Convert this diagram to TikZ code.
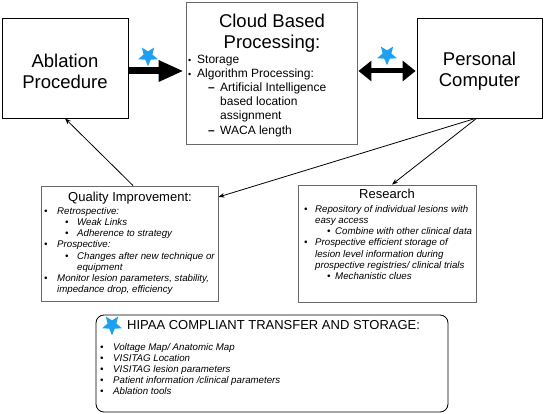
\documentclass[tikz,border=0pt]{standalone}
\usepackage{fontspec}
\setmainfont{Liberation Sans}
\usetikzlibrary{arrows.meta,shapes.geometric}
\definecolor{starblue}{RGB}{30,160,240}
\definecolor{boxgray}{RGB}{105,105,105}
\newcommand{\lit}[3]{\hspace*{#1}\makebox[#2][l]{\textbullet}#3}
\newcommand{\ldash}[3]{\hspace*{#1}\makebox[#2][l]{\textbf{\textendash}}#3}
\newcommand{\cbul}[1]{\makebox[9pt][l]{{\fontsize{9}{9}\selectfont\textbullet}}#1}
\begin{document}
\begin{tikzpicture}[x=1pt,y=-1pt,
  box/.style={draw=black,line width=0.8pt,inner sep=0pt},
  graybox/.style={draw=boxgray,line width=0.9pt,inner sep=0pt},
  bigtxt/.style={align=center,font={\fontsize{18.5}{21}\selectfont},inner sep=0pt},
  listtxt/.style={align=left,anchor=north west,inner sep=0pt,font={\fontsize{9.7}{11.2}\selectfont\itshape}},
  hdr/.style={anchor=base,inner sep=0pt,font={\fontsize{13}{15}\selectfont}},
  bluestar/.style={star,star points=5,star point ratio=0.45,fill=starblue,draw=none,minimum size=9.3pt,inner sep=0pt},
  thinarrow/.style={line width=0.8pt,-{Stealth[length=6pt,width=4.5pt]}},
  bigarrow/.style={line width=7pt,-{Triangle[length=25pt,width=20pt]}},
  dblarrow/.style={line width=5pt,{Triangle[length=13pt,width=20pt]}-{Triangle[length=13pt,width=20pt]}},
]
\useasboundingbox (0,0) rectangle (544,414);

% boxes
\node[box,minimum width=126pt,minimum height=100pt] (abl) at (65,68) {};
\node[graybox,minimum width=171pt,minimum height=142pt] (cloud) at (271.5,73) {};
\node[box,minimum width=125pt,minimum height=100pt] (pc) at (479.5,68) {};
\node[graybox,minimum width=177pt,minimum height=115pt] (qi) at (129.5,243.5) {};
\node[graybox,minimum width=178pt,minimum height=117pt] (res) at (387,243.5) {};
\node[box,rounded corners=8pt,minimum width=352pt,minimum height=97pt] (hipaa) at (272,363.5) {};

% big texts
\node[bigtxt] (ablt) at (65,71) {Ablation\\Procedure};
\node[bigtxt] (pct) at (479.5,71) {Personal\\Computer};
\node[bigtxt] (cloudt) at (272,33) {Cloud Based\\Processing:};

% cloud list
\node[align=left,anchor=north west,inner sep=0pt,font={\fontsize{12}{14.2}\selectfont}] (cloudl) at (188,53)
{\rule{0pt}{10pt}\cbul{Storage}\\
\cbul{Algorithm Processing:}\\
\ldash{20pt}{12pt}{Artificial Intelligence}\\
\hspace*{32pt}based location\\
\hspace*{32pt}assignment\\
\ldash{20pt}{12pt}{WACA length}};

% quality improvement
\node[hdr] (qih) at (130,202) {Quality Improvement:};
\node[listtxt] (qil) at (44,205)
{\rule{0pt}{9pt}\lit{0pt}{13pt}{Retrospective:}\\
\lit{21pt}{12pt}{Weak Links}\\
\lit{21pt}{12pt}{Adherence to strategy}\\
\lit{0pt}{13pt}{Prospective:}\\
\lit{21pt}{12pt}{Changes after new technique or}\\
\hspace*{33pt}equipment\\
\lit{0pt}{13pt}{Monitor lesion parameters, stability,}\\
\hspace*{13pt}impedance drop, efficiency};

% research
\node[hdr] (resh) at (387,199) {Research};
\node[listtxt] (resl) at (304,203)
{\rule{0pt}{9pt}\lit{0pt}{11pt}{Repository of individual lesions with}\\
\hspace*{11pt}easy access\\
\lit{23pt}{8pt}{Combine with other clinical data}\\
\lit{0pt}{11pt}{Prospective efficient storage of}\\
\hspace*{11pt}lesion level information during\\
\hspace*{11pt}prospective registries/ clinical trials\\
\lit{23pt}{8pt}{Mechanistic clues}};

% hipaa
\node[hdr,anchor=base west] (hiph) at (127,330) {HIPAA COMPLIANT TRANSFER AND STORAGE:};
\node[bluestar] (s3) at (112,325) {};
\node[listtxt] (hipl) at (100,341)
{\rule{0pt}{9pt}\lit{0pt}{13pt}{Voltage Map/ Anatomic Map}\\
\lit{0pt}{13pt}{VISITAG Location}\\
\lit{0pt}{13pt}{VISITAG lesion parameters}\\
\lit{0pt}{13pt}{Patient information /clinical parameters}\\
\lit{0pt}{13pt}{Ablation tools}};

% stars
\node[bluestar] (s1) at (148,56) {};
\node[bluestar] (s2) at (387,55) {};

% arrows
\draw[bigarrow,shorten <=1pt,shorten >=2pt] (abl.east |- 0,71) -- (cloud.west |- 0,71);
\draw[dblarrow,shorten <=1pt,shorten >=1pt] (cloud.east |- 0,71) -- (pc.west |- 0,71);
\draw[thinarrow] (qi.north -| 133,0) -- (abl.south);
\draw[thinarrow] ([xshift=-4pt]pc.south) -- (qi.east |- 0,197);
\draw[thinarrow] ([xshift=-3pt]pc.south) -- ([xshift=5pt]res.north);
\end{tikzpicture}
\end{document}
